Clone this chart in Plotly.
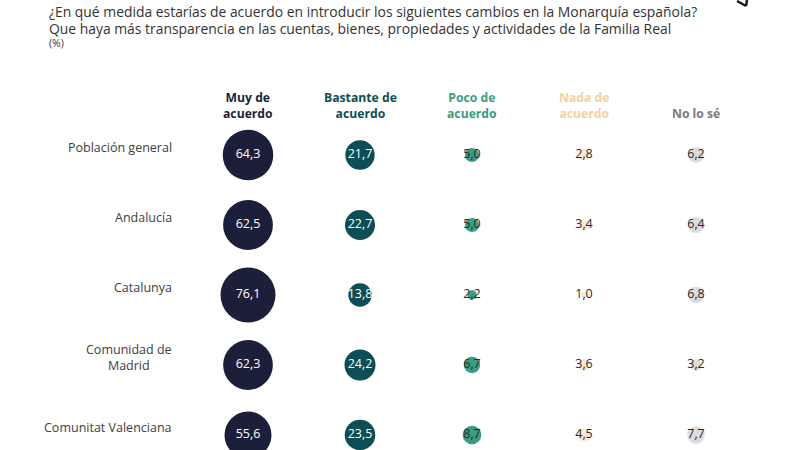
import plotly.graph_objects as go

title_lines = [
    "¿En qué medida estarías de acuerdo en introducir los siguientes cambios en la Monarquía española?",
    "Que haya más transparencia en las cuentas, bienes, propiedades y actividades de la Familia Real",
]
unit_label = "(%)"

regions = ["Población general", "Andalucía", "Catalunya", "Comunidad de<br>Madrid", "Comunitat Valenciana"]
headers = ["Muy de<br>acuerdo", "Bastante de<br>acuerdo", "Poco de<br>acuerdo", "Nada de<br>acuerdo", "No lo sé"]

muy = [64.3, 62.5, 76.1, 62.3, 55.6]
bastante = [21.7, 22.7, 13.8, 24.2, 23.5]
poco = [5.0, 5.0, 2.2, 6.7, 8.7]
nada = [2.8, 3.4, 1.0, 3.6, 4.5]
nolose = [6.2, 6.4, 6.8, 3.2, 7.7]

series = [muy, bastante, poco, nada, nolose]
marker_colors = ["#1c1f3a", "#0d4d55", "#3a9c84", "#fce9d2", "#dcdcdc"]
header_colors = ["#1c1f3a", "#0d4d55", "#3a9c84", "#f6cfa3", "#7a7a7a"]
text_colors = ["#ffffff", "#ffffff", "#2a2a2a", "#2a2a2a", "#2a2a2a"]

FONT = "Open Sans"
max_val = max(max(s) for s in series)
sizeref = 2.0 * max_val / (55 ** 2)

fig = go.Figure()
rows = list(range(len(regions)))
for ci, vals in enumerate(series):
    fig.add_trace(go.Scatter(
        x=[ci] * len(vals),
        y=rows,
        mode="markers+text",
        marker=dict(size=vals, sizemode="area", sizeref=sizeref, opacity=1,
                    color=marker_colors[ci], line=dict(width=0)),
        text=[f"{v:.1f}".replace(".", ",") for v in vals],
        textposition="middle center",
        textfont=dict(family=FONT, size=12.5, color=text_colors[ci]),
        hoverinfo="skip",
        showlegend=False,
        cliponaxis=False,
    ))

annotations = []
for ci, h in enumerate(headers):
    annotations.append(dict(
        x=ci, y=(124 - 155) / 70, xref="x", yref="y", text=f"<b>{h}</b>", showarrow=False,
        xanchor="center", yanchor="bottom", align="center",
        font=dict(family=FONT, size=12.2, color=header_colors[ci]),
    ))
for ri, r in enumerate(regions):
    annotations.append(dict(
        x=-0.66, y=ri, xref="x", yref="y", text=r, showarrow=False,
        xanchor="right", yanchor="middle", align="center", yshift=8,
        font=dict(family=FONT, size=12.5, color="#404040"),
    ))
for li, line in enumerate(title_lines):
    annotations.append(dict(
        x=47 / 800, y=1 - (12 + 16.5 * li) / 450, xref="paper", yref="paper",
        text=line, showarrow=False, xanchor="left", yanchor="middle", align="left",
        font=dict(family=FONT, size=13.9, color="#333333"),
    ))
annotations.append(dict(
    x=47 / 800, y=1 - 43 / 450, xref="paper", yref="paper",
    text=unit_label, showarrow=False, xanchor="left", yanchor="middle", align="left",
    font=dict(family=FONT, size=10.5, color="#333333"),
))

def px(xp, yp):
    return xp / 800, 1 - yp / 450

mark = [(737, 1), (746, 6), (747, 0)]
shapes = []
for (xa, ya), (xb, yb) in zip(mark[:-1], mark[1:]):
    x0, y0 = px(xa, ya)
    x1, y1 = px(xb, yb)
    shapes.append(dict(type="line", xref="paper", yref="paper", x0=x0, y0=y0, x1=x1, y1=y1,
                       line=dict(color="#1c1c1c", width=2.5)))

fig.update_layout(
    width=800, height=450,
    margin=dict(l=0, r=0, t=0, b=0),
    paper_bgcolor="white", plot_bgcolor="white",
    xaxis=dict(range=[-248 / 112, (800 - 248) / 112], visible=False, fixedrange=True),
    yaxis=dict(range=[(450 - 155) / 70, -155 / 70], visible=False, fixedrange=True),
    annotations=annotations,
    shapes=shapes,
)

fig.write_html("out.html", config={"displayModeBar": False},
               post_script="document.body.style.margin='0';")
